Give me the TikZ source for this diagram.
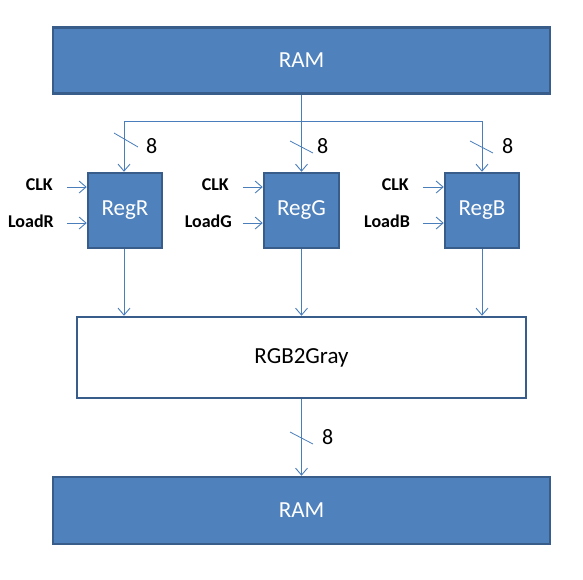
\documentclass[tikz,border=0pt]{standalone}
\usepackage{fontspec}
\setmainfont{Carlito}
\usetikzlibrary{arrows.meta}
\definecolor{bfill}{HTML}{4F81BD}
\definecolor{bdraw}{HTML}{385D8A}
\definecolor{wire}{HTML}{4A7EBB}
\begin{document}
\begin{tikzpicture}[x=1pt,y=-1pt,
  bluebox/.style={draw=bdraw,fill=bfill,line width=2.5pt,text=white,inner sep=0pt,
    font=\fontsize{23}{26}\selectfont},
  whitebox/.style={draw=bdraw,fill=white,line width=2.5pt,text=black,inner sep=0pt,
    font=\fontsize{23}{26}\selectfont},
  wirestyle/.style={draw=wire,line width=0.9pt},
  arr/.style={wirestyle,-{Straight Barb[length=7pt,width=12pt,line width=0.9pt]}},
  sig/.style={anchor=east,inner sep=0pt,font=\bfseries\fontsize{18}{20}\selectfont},
  num/.style={anchor=west,inner sep=0pt,font=\fontsize{22}{24}\selectfont},
  slash/.style={draw=wire,line width=0.8pt}]
\useasboundingbox (0,0) rectangle (583,579);
% boxes
\node[bluebox,minimum width=497pt,minimum height=66pt] (ram1) at (301.5,60.5) {RAM};
\node[bluebox,minimum width=497pt,minimum height=67pt] (ram2) at (301.5,510.5) {RAM};
\node[whitebox,minimum width=449pt,minimum height=81pt] (gray) at (301.5,357.5) {RGB2Gray};
\node[bluebox,minimum width=74pt,minimum height=75pt] (regR) at (125,210.5) {RegR};
\node[bluebox,minimum width=75pt,minimum height=75pt] (regG) at (301.5,210.5) {RegG};
\node[bluebox,minimum width=74pt,minimum height=75pt] (regB) at (482,210.5) {RegB};
% bus
\coordinate (jG) at (301.5,121);
\coordinate (jR) at (124,121);
\coordinate (jB) at (482,121);
\draw[wirestyle] (ram1.south -| jG) -- (jG);
\draw[wirestyle] (jR) -- (jB);
\draw[arr] (jG) -- (regG.north -| jG);
\draw[arr] (jR) -- (regR.north -| jR);
\draw[arr] (jB) -- (regB.north -| jB);
% slashes and widths
\draw[slash] (114,133) -- (138,147);
\node[num] (nR) at (146,146) {8};
\draw[slash] (290,141) -- (313,153);
\node[num] (nG) at (317,146) {8};
\draw[slash] (470,141) -- (493,153);
\node[num] (nB) at (502,146) {8};
% control signals
\node[sig] (clkR) at (53,185) {CLK};
\node[sig] (ldR) at (54,221) {LoadR};
\node[sig] (clkG) at (229,185) {CLK};
\node[sig] (ldG) at (232,221) {LoadG};
\node[sig] (clkB) at (409,185) {CLK};
\node[sig] (ldB) at (410,221) {LoadB};
\draw[arr] (67,187) coordinate (a1) -- (a1 -| regR.west);
\draw[arr] (67,223) coordinate (a2) -- (a2 -| regR.west);
\draw[arr] (243,187) coordinate (a3) -- (a3 -| regG.west);
\draw[arr] (243,223) coordinate (a4) -- (a4 -| regG.west);
\draw[arr] (423,187) coordinate (a5) -- (a5 -| regB.west);
\draw[arr] (423,223) coordinate (a6) -- (a6 -| regB.west);
% outputs
\draw[arr] (regR.south -| jR) -- (gray.north -| jR);
\draw[arr] (regG.south -| jG) -- (gray.north -| jG);
\draw[arr] (regB.south -| jB) -- (gray.north -| jB);
\draw[arr] (gray.south -| jG) -- (ram2.north -| jG);
\draw[slash] (290,432) -- (313,444);
\node[num] (nO) at (322,437) {8};
\end{tikzpicture}
\end{document}
